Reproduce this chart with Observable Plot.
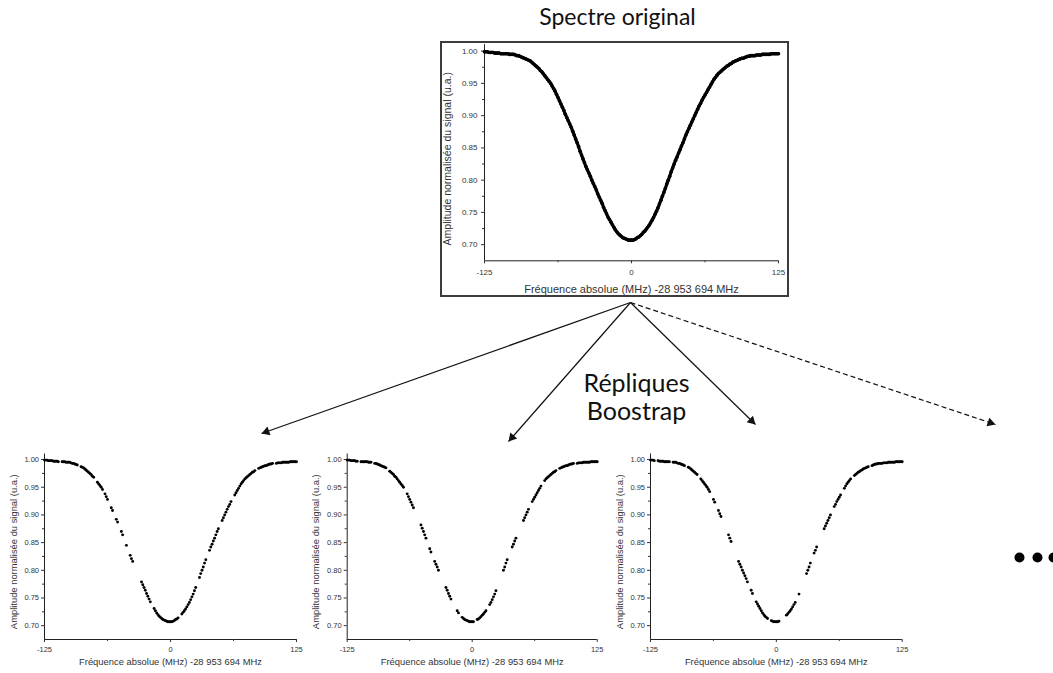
<!DOCTYPE html>
<html><head><meta charset="utf-8">
<script src="https://cdn.jsdelivr.net/npm/d3@7"></script>
<script src="https://cdn.jsdelivr.net/npm/@observablehq/plot@0.6"></script>
<style>
body{margin:0;background:#fff;}
#stage{position:relative;width:1053px;height:673px;overflow:hidden;}
.panel{position:absolute;}
</style></head><body><div id="stage"></div>
<script>
// ---------- data ----------
const freq = [
-125,-123.75,-122.5,-121.25,-120,-118.75,-117.5,-116.25,-115,-113.75,-112.5,-111.25,-110,-108.75,-107.5,-106.25,-105,-103.75,-102.5,-101.25,
-100,-98.75,-97.5,-96.25,-95,-93.75,-92.5,-91.25,-90,-88.75,-87.5,-86.25,-85,-83.75,-82.5,-81.25,-80,-78.75,-77.5,-76.25,
-75,-73.75,-72.5,-71.25,-70,-68.75,-67.5,-66.25,-65,-63.75,-62.5,-61.25,-60,-58.75,-57.5,-56.25,-55,-53.75,-52.5,-51.25,
-50,-48.75,-47.5,-46.25,-45,-43.75,-42.5,-41.25,-40,-38.75,-37.5,-36.25,-35,-33.75,-32.5,-31.25,-30,-28.75,-27.5,-26.25,
-25,-23.75,-22.5,-21.25,-20,-18.75,-17.5,-16.25,-15,-13.75,-12.5,-11.25,-10,-8.75,-7.5,-6.25,-5,-3.75,-2.5,-1.25,
0,1.25,2.5,3.75,5,6.25,7.5,8.75,10,11.25,12.5,13.75,15,16.25,17.5,18.75,20,21.25,22.5,23.75,
25,26.25,27.5,28.75,30,31.25,32.5,33.75,35,36.25,37.5,38.75,40,41.25,42.5,43.75,45,46.25,47.5,48.75,
50,51.25,52.5,53.75,55,56.25,57.5,58.75,60,61.25,62.5,63.75,65,66.25,67.5,68.75,70,71.25,72.5,73.75,
75,76.25,77.5,78.75,80,81.25,82.5,83.75,85,86.25,87.5,88.75,90,91.25,92.5,93.75,95,96.25,97.5,98.75,
100,101.25,102.5,103.75,105,106.25,107.5,108.75,110,111.25,112.5,113.75,115,116.25,117.5,118.75,120,121.25,122.5,123.75,125];
const amplitude = [
0.999,0.999,0.999,0.998,0.998,0.998,0.998,0.997,0.997,0.997,0.997,0.996,0.996,0.996,0.996,0.996,0.996,0.995,0.995,0.995,
0.995,0.994,0.993,0.993,0.992,0.991,0.990,0.989,0.988,0.987,0.986,0.985,0.983,0.981,0.979,0.977,0.975,0.973,0.970,0.968,
0.965,0.962,0.959,0.956,0.953,0.950,0.946,0.942,0.938,0.933,0.928,0.923,0.918,0.913,0.908,0.902,0.897,0.892,0.887,0.882,
0.876,0.870,0.864,0.858,0.852,0.845,0.839,0.833,0.827,0.821,0.816,0.811,0.806,0.800,0.795,0.790,0.785,0.779,0.774,0.769,
0.764,0.758,0.753,0.748,0.743,0.739,0.735,0.731,0.727,0.723,0.720,0.717,0.715,0.713,0.711,0.710,0.709,0.708,0.707,0.707,
0.707,0.707,0.708,0.709,0.711,0.712,0.714,0.716,0.719,0.721,0.724,0.727,0.730,0.734,0.738,0.742,0.747,0.752,0.757,0.763,
0.769,0.775,0.781,0.787,0.794,0.800,0.806,0.813,0.819,0.825,0.831,0.836,0.842,0.847,0.853,0.858,0.864,0.870,0.875,0.880,
0.885,0.890,0.895,0.900,0.905,0.910,0.915,0.919,0.924,0.928,0.932,0.936,0.940,0.944,0.948,0.952,0.956,0.959,0.962,0.965,
0.967,0.969,0.971,0.973,0.975,0.977,0.978,0.980,0.981,0.983,0.984,0.985,0.986,0.987,0.988,0.989,0.989,0.990,0.991,0.992,
0.992,0.993,0.993,0.993,0.993,0.994,0.994,0.994,0.994,0.995,0.995,0.995,0.995,0.995,0.995,0.996,0.996,0.996,0.996,0.996,0.996];
// frequency ranges (MHz) with no point in each bootstrap replica
const replica1Gaps = [[-110,-108.75],[-91.25,-90],[-75,-73.75],[-66.25,-66.25],[-61.25,-60],[-56.25,-55],[-51.25,-50],[-46.25,-45],[-42.5,-41.25],[-36.25,-30],[-18.75,-17.5],[8.75,10],[26.25,27.5],[36.25,37.5],[48.75,50],[61.25,62.5],[85,86.25],[102.5,103.75]];
const replica2Gaps = [[-113.75,-112.5],[-100,-98.75],[-85,-83.75],[-67.5,-66.25],[-57.5,-52.5],[-45,-43.75],[-40,-38.75],[-32.5,-27.5],[-20,-16.25],[-12.5,-11.25],[2.5,3.75],[15,16.25],[25,30],[36.25,38.75],[45,50],[57.5,58.75],[70,71.25],[85,86.25],[102.5,103.75]];
const replica3Gaps = [[-120,-118.75],[-105,-103.75],[-90,-88.75],[-77.5,-76.25],[-65,-63.75],[-60,-58.75],[-53.75,-48.75],[-43.75,-38.75],[-27.5,-26.25],[-22.5,-21.25],[-7.5,-6.25],[3.75,8.75],[20,21.25],[23.75,28.75],[35,36.25],[41.25,46.25],[55,56.25],[65,66.25],[75,76.25],[92.5,93.75]];
const yTicks = [0.70,0.75,0.80,0.85,0.90,0.95,1.00];
const yMinorTicks = [0.725,0.775,0.825,0.875,0.925,0.975];
const xTicks = [-125,0,125];
const xMinorTicks = [-62.5,62.5];
const xLabel = "Fréquence absolue (MHz) -28 953 694 MHz";
const yLabel = "Amplitude normalisée du signal (u.a.)";
const titleText = "Spectre original";
const arrowLines = ["Répliques","Boostrap"];

// ---------- layout (diagram geometry, page pixels) ----------
const layout = {
  frame: {x1:441, y1:42, x2:788, y2:296},
  title: {x:617, y:17},
  caption: [{x:636, y:383}, {x:636, y:411}],
  arrows: [
    {x1:630,y1:302,x2:261,y2:433,dashed:false},
    {x1:630,y1:302,x2:508,y2:441,dashed:false},
    {x1:630,y1:302,x2:755,y2:424,dashed:false},
    {x1:630,y1:302,x2:995,y2:424,dashed:true}
  ],
  ellipsis: [{x:1019,y:557},{x:1037,y:557},{x:1053,y:557}]
};

const spectrum = freq.map((f,i)=>({freq:f, amp:amplitude[i]}));
const replica = gaps => spectrum.filter(d => !gaps.some(([a,b]) => d.freq >= a && d.freq <= b));

// arrowhead placement derived from layout arrows
const HEAD = 5.3;
const arrowHeads = layout.arrows.map(a => {
  const dx = a.x2 - a.x1, dy = a.y2 - a.y1, L = Math.hypot(dx, dy);
  return {x: a.x2 - dx / L * HEAD, y: a.y2 - dy / L * HEAD, angle: Math.atan2(dx, -dy) * 180 / Math.PI};
});

const FONT = "'Liberation Sans', Arial, sans-serif";
const stage = document.getElementById("stage");

// background diagram layer
const diagram = Plot.plot({
  width:1053, height:673, margin:0,
  style:{background:"transparent"},
  x:{domain:[0,1053], range:[0,1053], axis:null},
  y:{domain:[0,673], range:[0,673], axis:null},
  marks:[
    Plot.rect([layout.frame], {x1:"x1", y1:"y1", x2:"x2", y2:"y2", fill:"none", stroke:"#3c3c3c", strokeWidth:2}),
    Plot.link(layout.arrows.filter(d=>!d.dashed), {x1:"x1", y1:"y1", x2:"x2", y2:"y2", stroke:"#111", strokeWidth:1.2}),
    Plot.link(layout.arrows.filter(d=>d.dashed), {x1:"x1", y1:"y1", x2:"x2", y2:"y2", stroke:"#111", strokeWidth:1.2, strokeDasharray:"5,3"}),
    Plot.dot(arrowHeads, {x:"x", y:"y", symbol:"triangle", r:3.4, rotate:"angle", fill:"#111", stroke:"none"}),
    Plot.text([titleText], {x:layout.title.x, y:layout.title.y, text:d=>d, fontFamily:"Lato, 'Open Sans', sans-serif", fontSize:23, fill:"#111"}),
    Plot.text(arrowLines, {x:(d,i)=>layout.caption[i].x, y:(d,i)=>layout.caption[i].y, text:d=>d, fontFamily:"Lato, 'Open Sans', sans-serif", fontSize:25, fill:"#111"}),
    Plot.dot(layout.ellipsis, {x:"x", y:"y", r:5, fill:"#000"})
  ]
});
diagram.classList.add("panel");
diagram.style.left = "0px"; diagram.style.top = "0px";
stage.appendChild(diagram);

function spectrumChart(o){
  const marks = [
    Plot.ruleX([-125], {y1:0.675, y2:1.01, stroke:"#222", strokeWidth:1}),
    Plot.ruleY([0.675], {x1:-125, x2:125, stroke:"#222", strokeWidth:1}),
    Plot.axisY(yTicks, {tickSize:o.tickSize, tickPadding:o.yPad, tickFormat:d=>d.toFixed(2), fontSize:o.tickFont, label:null, stroke:"#333", fill:"#333"}),
    Plot.axisY(yMinorTicks, {tickSize:o.tickSize-1, tickFormat:()=>"", label:null, stroke:"#333"}),
    Plot.axisX(xTicks, {tickSize:o.tickSize, tickPadding:o.xPad, tickFormat:d=>String(d), fontSize:o.tickFont, label:null, stroke:"#333", fill:"#333"}),
    Plot.axisX(xMinorTicks, {tickSize:o.tickSize-1, tickFormat:()=>"", label:null, stroke:"#333"}),
    Plot.text([xLabel], {frameAnchor:"bottom", text:d=>d, dy:o.xLabelDy, fontSize:o.xLabelFont, fill:"#333", lineAnchor:"middle", textAnchor:"middle"}),
    Plot.text([yLabel], {frameAnchor:"left", text:d=>d, rotate:-90, dx:o.yLabelDx, dy:o.yLabelDy, fontSize:o.yLabelFont, fill:"#333", lineAnchor:"middle", textAnchor:"middle"})
  ];
  if (o.line) {
    marks.push(Plot.line(o.data, {x:"freq", y:"amp", stroke:"#000", strokeWidth:3.2, curve:"catmull-rom"}));
    marks.push(Plot.dot(o.data, {x:"freq", y:"amp", r:1.8, fill:"#000"}));
  } else {
    marks.push(Plot.dot(o.data, {x:"freq", y:"amp", r:1.45, fill:"#000"}));
  }
  const svg = Plot.plot({
    width:o.width, height:o.height,
    marginLeft:o.ml, marginRight:o.mr, marginTop:o.mt, marginBottom:o.mb,
    style:{background:"transparent", fontFamily:FONT, color:"#333", overflow:"visible"},
    x:{domain:[-125,125]},
    y:{domain:[0.675,1.01]},
    marks
  });
  svg.classList.add("panel");
  svg.style.left = o.left + "px"; svg.style.top = o.top + "px";
  stage.appendChild(svg);
}

// original spectrum
spectrumChart({data:spectrum, line:true, left:441, top:42, width:347, height:254,
  ml:43, mr:10, mt:2.2, mb:35.7, tickSize:3, yPad:4, xPad:6, tickFont:8,
  xLabelFont:11, xLabelDy:28.7, yLabelFont:10.5, yLabelDx:-37, yLabelDy:6});

// bootstrap replicas
const bottomCommon = {top:445, height:228, mt:8.5, mb:34, tickSize:3, yPad:2.5, xPad:4.5, tickFont:7.5,
  xLabelFont:9.4, xLabelDy:22, yLabelFont:9.4, yLabelDx:-31, yLabelDy:5};
spectrumChart({...bottomCommon, data:replica(replica1Gaps), left:0, width:305, ml:44, mr:9});
spectrumChart({...bottomCommon, data:replica(replica2Gaps), left:300, width:305, ml:46.7, mr:8.3});
spectrumChart({...bottomCommon, data:replica(replica3Gaps), left:600, width:310, ml:50, mr:8.3});
</script></body></html>
